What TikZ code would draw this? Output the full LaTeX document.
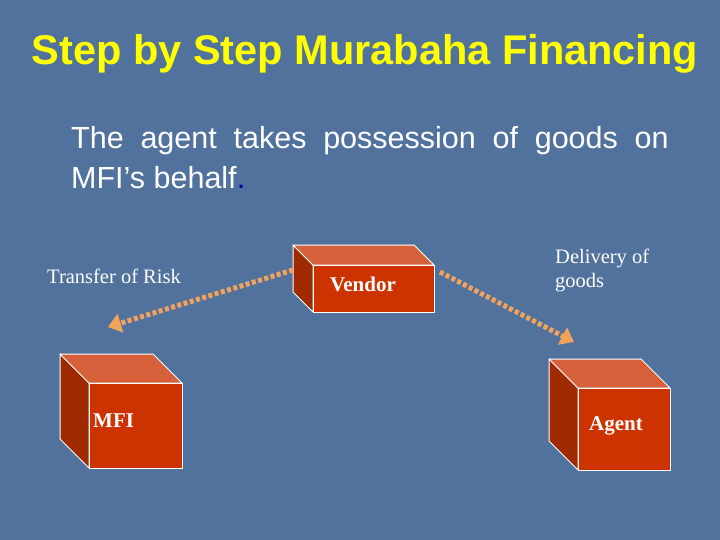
\documentclass[tikz,border=0pt]{standalone}
\usepackage{fontspec}
\setmainfont{Liberation Serif}
\newfontfamily\arialf{Liberation Sans}
\usetikzlibrary{arrows.meta}
\definecolor{bg}{HTML}{52729E}
\definecolor{front}{HTML}{CC3300}
\definecolor{topf}{HTML}{D6603A}
\definecolor{sidef}{HTML}{A02A00}
\definecolor{arr}{HTML}{F2A25A}
\definecolor{ttl}{HTML}{FFFF00}
\tikzset{
  face/.style={draw=white, line width=1pt, line join=round},
  link/.style={arr, line width=5pt, dash pattern=on 4pt off 2.5pt, -{Triangle[length=13pt,width=19pt]}},
  lbl/.style={font=\fontsize{20.5}{24}\selectfont, text=white, inner sep=0pt},
  boxlbl/.style={font=\fontsize{21}{24}\selectfont\bfseries, text=white, inner sep=0pt}
}
\newcommand{\cube}[6]{% name, x1,y1 (front top-left), x2,y2 (front bottom-right), depth
  \fill[sidef,face] (#2-#6,#3-#6) -- (#2,#3) -- (#2,#5) -- (#2-#6,#5-#6) -- cycle;
  \fill[topf,face] (#2-#6,#3-#6) -- (#4-#6,#3-#6) -- (#4,#3) -- (#2,#3) -- cycle;
  \fill[front,face] (#2,#3) rectangle (#4,#5);
  \coordinate (#1) at ({(#2+#4)/2},{(#3+#5)/2});
}
\begin{document}
\begin{tikzpicture}[x=1pt,y=-1pt]
\fill[bg] (0,0) rectangle (720,540);
\useasboundingbox (0,0) rectangle (720,540);
\node[font=\arialf\bfseries\fontsize{41.5}{48}\selectfont, text=ttl, inner sep=0pt] (title) at (365,54) {Step by Step Murabaha Financing};
\node[font=\arialf\fontsize{30.5}{40}\selectfont, text=white, anchor=north west, inner sep=0pt, align=left] (body) at (71,126)
 {The\hspace{0.55em}agent\hspace{0.55em}takes\hspace{0.55em}possession\hspace{0.55em}of\hspace{0.55em}goods\hspace{0.55em}on\\MFI’s behalf\textcolor{blue!60!black}{.}};
\cube{vendor}{313}{265}{434}{312}{20}
\cube{mfi}{89}{383}{182}{468}{29}
\cube{agent}{578}{388}{670}{470}{29}
\node[boxlbl] (vt) at (363,284) {Vendor};
\node[boxlbl, anchor=west] (mt) at (93,421) {MFI};
\node[boxlbl] (at) at (616,426) {Agent};
\node[lbl, anchor=west] (risk) at (47,276) {Transfer of Risk};
\node[lbl, anchor=west, align=left, font=\fontsize{20.5}{24}\selectfont] (deliv) at (555,270) {Delivery of\\goods};
\coordinate (vl) at (293,270);
\coordinate (vr) at (440,272);
\coordinate (mfiend) at (108,327);
\coordinate (agend) at (574,342);
\draw[link] (vl) -- (mfiend);
\draw[link] (vr) -- (agend);
\end{tikzpicture}
\end{document}
